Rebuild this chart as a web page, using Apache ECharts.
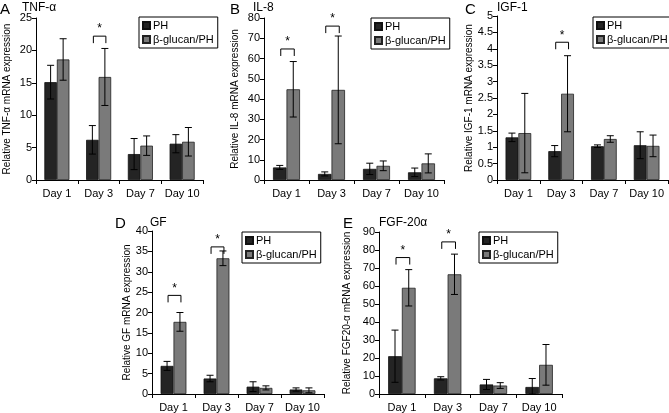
<!DOCTYPE html>
<html><head><meta charset="utf-8">
<script src="https://cdn.jsdelivr.net/npm/echarts@6/dist/echarts.min.js"></script>
<style>html,body{margin:0;padding:0;background:#fff}#c{width:669px;height:413px}</style>
</head><body><div id="c"></div>
<script>
const days = ['Day 1', 'Day 3', 'Day 7', 'Day 10'];
const seriesNames = ['PH', 'β-glucan/PH'];

// Panel A: TNF-α
const tnfPH = [15.1, 6.2, 4.0, 5.6];
const tnfPHErr = [2.6, 2.2, 2.4, 1.4];
const tnfGl = [18.6, 15.9, 5.3, 5.9];
const tnfGlErr = [3.2, 4.4, 1.5, 2.2];
const tnfSig = [[1, 22.2]];

// Panel B: IL-8
const il8PH = [6.2, 3.0, 5.5, 3.8];
const il8PHErr = [1.0, 1.0, 2.8, 2.1];
const il8Gl = [44.8, 44.5, 7.0, 8.2];
const il8GlErr = [13.7, 26.6, 2.4, 4.7];
const il8Sig = [[0, 64.7], [1, 76]];

// Panel C: IGF-1
const igfPH = [1.30, 0.88, 1.03, 1.06];
const igfPHErr = [0.13, 0.17, 0.04, 0.41];
const igfGl = [1.43, 2.63, 1.25, 1.04];
const igfGlErr = [1.21, 1.16, 0.10, 0.33];
const igfSig = [[1, 4.2]];

// Panel D: GF
const gfPH = [6.9, 3.8, 1.8, 1.1];
const gfPHErr = [1.1, 0.8, 1.2, 0.4];
const gfGl = [17.7, 33.3, 1.5, 0.9];
const gfGlErr = [2.3, 1.8, 0.5, 0.6];
const gfSig = [[0, 24.2], [1, 36.1]];

// Panel E: FGF-20α
const fgfPH = [21, 8.7, 5.3, 3.9];
const fgfPHErr = [14.5, 0.9, 2.8, 4.7];
const fgfGl = [59, 66.5, 4.7, 16.2];
const fgfGlErr = [10.1, 11.2, 1.6, 11.3];
const fgfSig = [[0, 75.8], [1, 84.5]];

const panels = [
  {letter: 'A', title: 'TNF-α', yName: 'Relative TNF-α mRNA expression', max: 25, interval: 5,
   ph: tnfPH, phErr: tnfPHErr, gl: tnfGl, glErr: tnfGlErr, sig: tnfSig,
   grid: {left: 36, top: 18, width: 167, height: 162}, nameGap: 24,
   letterPos: [0, 2], titlePos: [22, 2], legendPos: [139, 17]},
  {letter: 'B', title: 'IL-8', yName: 'Relative IL-8 mRNA expression', max: 80, interval: 10,
   ph: il8PH, phErr: il8PHErr, gl: il8Gl, glErr: il8GlErr, sig: il8Sig,
   grid: {left: 264, top: 18, width: 180, height: 162}, nameGap: 24,
   letterPos: [230, 2], titlePos: [253, 2], legendPos: [371, 18]},
  {letter: 'C', title: 'IGF-1', yName: 'Relative IGF-1 mRNA expression', max: 5, interval: 0.5,
   ph: igfPH, phErr: igfPHErr, gl: igfGl, glErr: igfGlErr, sig: igfSig,
   grid: {left: 497, top: 16, width: 171, height: 164}, nameGap: 23,
   letterPos: [465, 2], titlePos: [497, 2], legendPos: [593, 17]},
  {letter: 'D', title: 'GF', yName: 'Relative GF mRNA expression', max: 40, interval: 5,
   ph: gfPH, phErr: gfPHErr, gl: gfGl, glErr: gfGlErr, sig: gfSig,
   grid: {left: 152, top: 231, width: 172, height: 165}, nameGap: 20,
   letterPos: [115, 216], titlePos: [150, 217], legendPos: [242, 232]},
  {letter: 'E', title: 'FGF-20α', yName: 'Relative FGF20-α mRNA expression', max: 90, interval: 10,
   ph: fgfPH, phErr: fgfPHErr, gl: fgfGl, glErr: fgfGlErr, sig: fgfSig,
   grid: {left: 379, top: 232, width: 183, height: 165}, nameGap: 27,
   letterPos: [343, 216], titlePos: [379, 217], legendPos: [479, 232]}
];

const FONT = 'Liberation Sans, Arial, sans-serif';
const PH_COLOR = '#242424';
const GL_COLOR = '#7a7a7a';
const BAR_RATIO = 0.3; // each bar = 30% of category band (barCategoryGap 40%, barGap 0)

function errRender(sideSign) {
  return function (params, api) {
    const idx = api.value(0);
    const mid = api.value(1), err = api.value(2);
    const band = api.size([1, 0])[0];
    const bw = band * BAR_RATIO;
    const c = api.coord([idx, mid]);
    const x = c[0] + sideSign * bw / 2;
    const lo = api.coord([idx, Math.max(0, mid - err)])[1];
    const hi = api.coord([idx, mid + err])[1];
    const cap = 3.5;
    const st = {stroke: '#000', lineWidth: 1};
    return {type: 'group', children: [
      {type: 'line', shape: {x1: x, y1: lo, x2: x, y2: hi}, style: st},
      {type: 'line', shape: {x1: x - cap, y1: hi, x2: x + cap, y2: hi}, style: st},
      {type: 'line', shape: {x1: x - cap, y1: lo, x2: x + cap, y2: lo}, style: st}
    ]};
  };
}

function sigRender(params, api) {
  const idx = api.value(0), lvl = api.value(1);
  const band = api.size([1, 0])[0];
  const bw = band * BAR_RATIO;
  const c = api.coord([idx, lvl]);
  const x1 = c[0] - bw / 2 + 1, x2 = c[0] + bw / 2 + 1;
  const y = c[1], leg = 7;
  return {type: 'group', children: [
    {type: 'polyline', shape: {points: [[x1, y + leg], [x1, y], [x2, y], [x2, y + leg]]},
     style: {stroke: '#000', lineWidth: 1, fill: null}},
    {type: 'text', style: {text: '*', x: (x1 + x2) / 2, y: y - 1, align: 'center', verticalAlign: 'bottom',
     font: '12px ' + FONT, fill: '#000'}}
  ]};
}

const grid = [], xAxis = [], yAxis = [], series = [], legend = [], title = [];
panels.forEach((p, i) => {
  grid.push(Object.assign({}, p.grid));
  xAxis.push({type: 'category', gridIndex: i, data: days,
    axisLine: {lineStyle: {color: '#000', width: 1}},
    axisTick: {show: true, length: 4, lineStyle: {color: '#000'}},
    axisLabel: {color: '#000', fontSize: 11, fontFamily: FONT, margin: 8, interval: 0, hideOverlap: false}});
  yAxis.push({type: 'value', gridIndex: i, min: 0, max: p.max, interval: p.interval,
    name: p.yName, nameLocation: 'middle', nameGap: p.nameGap,
    nameTextStyle: {color: '#000', fontSize: 10, fontFamily: FONT},
    axisLine: {show: true, lineStyle: {color: '#000', width: 1}},
    axisTick: {show: true, length: 4, lineStyle: {color: '#000'}},
    axisLabel: {color: '#000', fontSize: 11, fontFamily: FONT, margin: 4},
    splitLine: {show: false}});
  series.push({name: seriesNames[0], type: 'bar', xAxisIndex: i, yAxisIndex: i, data: p.ph,
    barGap: '0%', barCategoryGap: '40%',
    itemStyle: {color: PH_COLOR, borderColor: '#111', borderWidth: 0.8}});
  series.push({name: seriesNames[1], type: 'bar', xAxisIndex: i, yAxisIndex: i, data: p.gl,
    barGap: '0%', barCategoryGap: '40%',
    itemStyle: {color: GL_COLOR, borderColor: '#222', borderWidth: 0.8}});
  series.push({type: 'custom', xAxisIndex: i, yAxisIndex: i, renderItem: errRender(-1),
    data: p.ph.map((v, k) => [k, v, p.phErr[k]]), z: 5, silent: true});
  series.push({type: 'custom', xAxisIndex: i, yAxisIndex: i, renderItem: errRender(1),
    data: p.gl.map((v, k) => [k, v, p.glErr[k]]), z: 5, silent: true});
  series.push({type: 'custom', xAxisIndex: i, yAxisIndex: i, renderItem: sigRender,
    data: p.sig, z: 5, silent: true});
  legend.push({data: seriesNames, orient: 'vertical', left: p.legendPos[0], top: p.legendPos[1],
    itemWidth: 7, itemHeight: 7, itemGap: 3, padding: [3, 4, 3, 3], borderColor: '#000', borderWidth: 1,
    icon: 'rect', selectedMode: false,
    textStyle: {color: '#000', fontSize: 11, fontFamily: FONT, padding: [0, 0, 0, -2]}});
  title.push({text: p.letter, left: p.letterPos[0], top: p.letterPos[1], padding: 0,
    textStyle: {color: '#000', fontSize: 15, fontWeight: 'normal', fontFamily: FONT}});
  title.push({text: p.title, left: p.titlePos[0], top: p.titlePos[1], padding: 0,
    textStyle: {color: '#000', fontSize: 12, fontWeight: 'normal', fontFamily: FONT}});
});

const chart = echarts.init(document.getElementById('c'), null, {renderer: 'canvas'});
chart.setOption({animation: false, backgroundColor: '#fff', title, grid, xAxis, yAxis, legend, series});
</script></body></html>
